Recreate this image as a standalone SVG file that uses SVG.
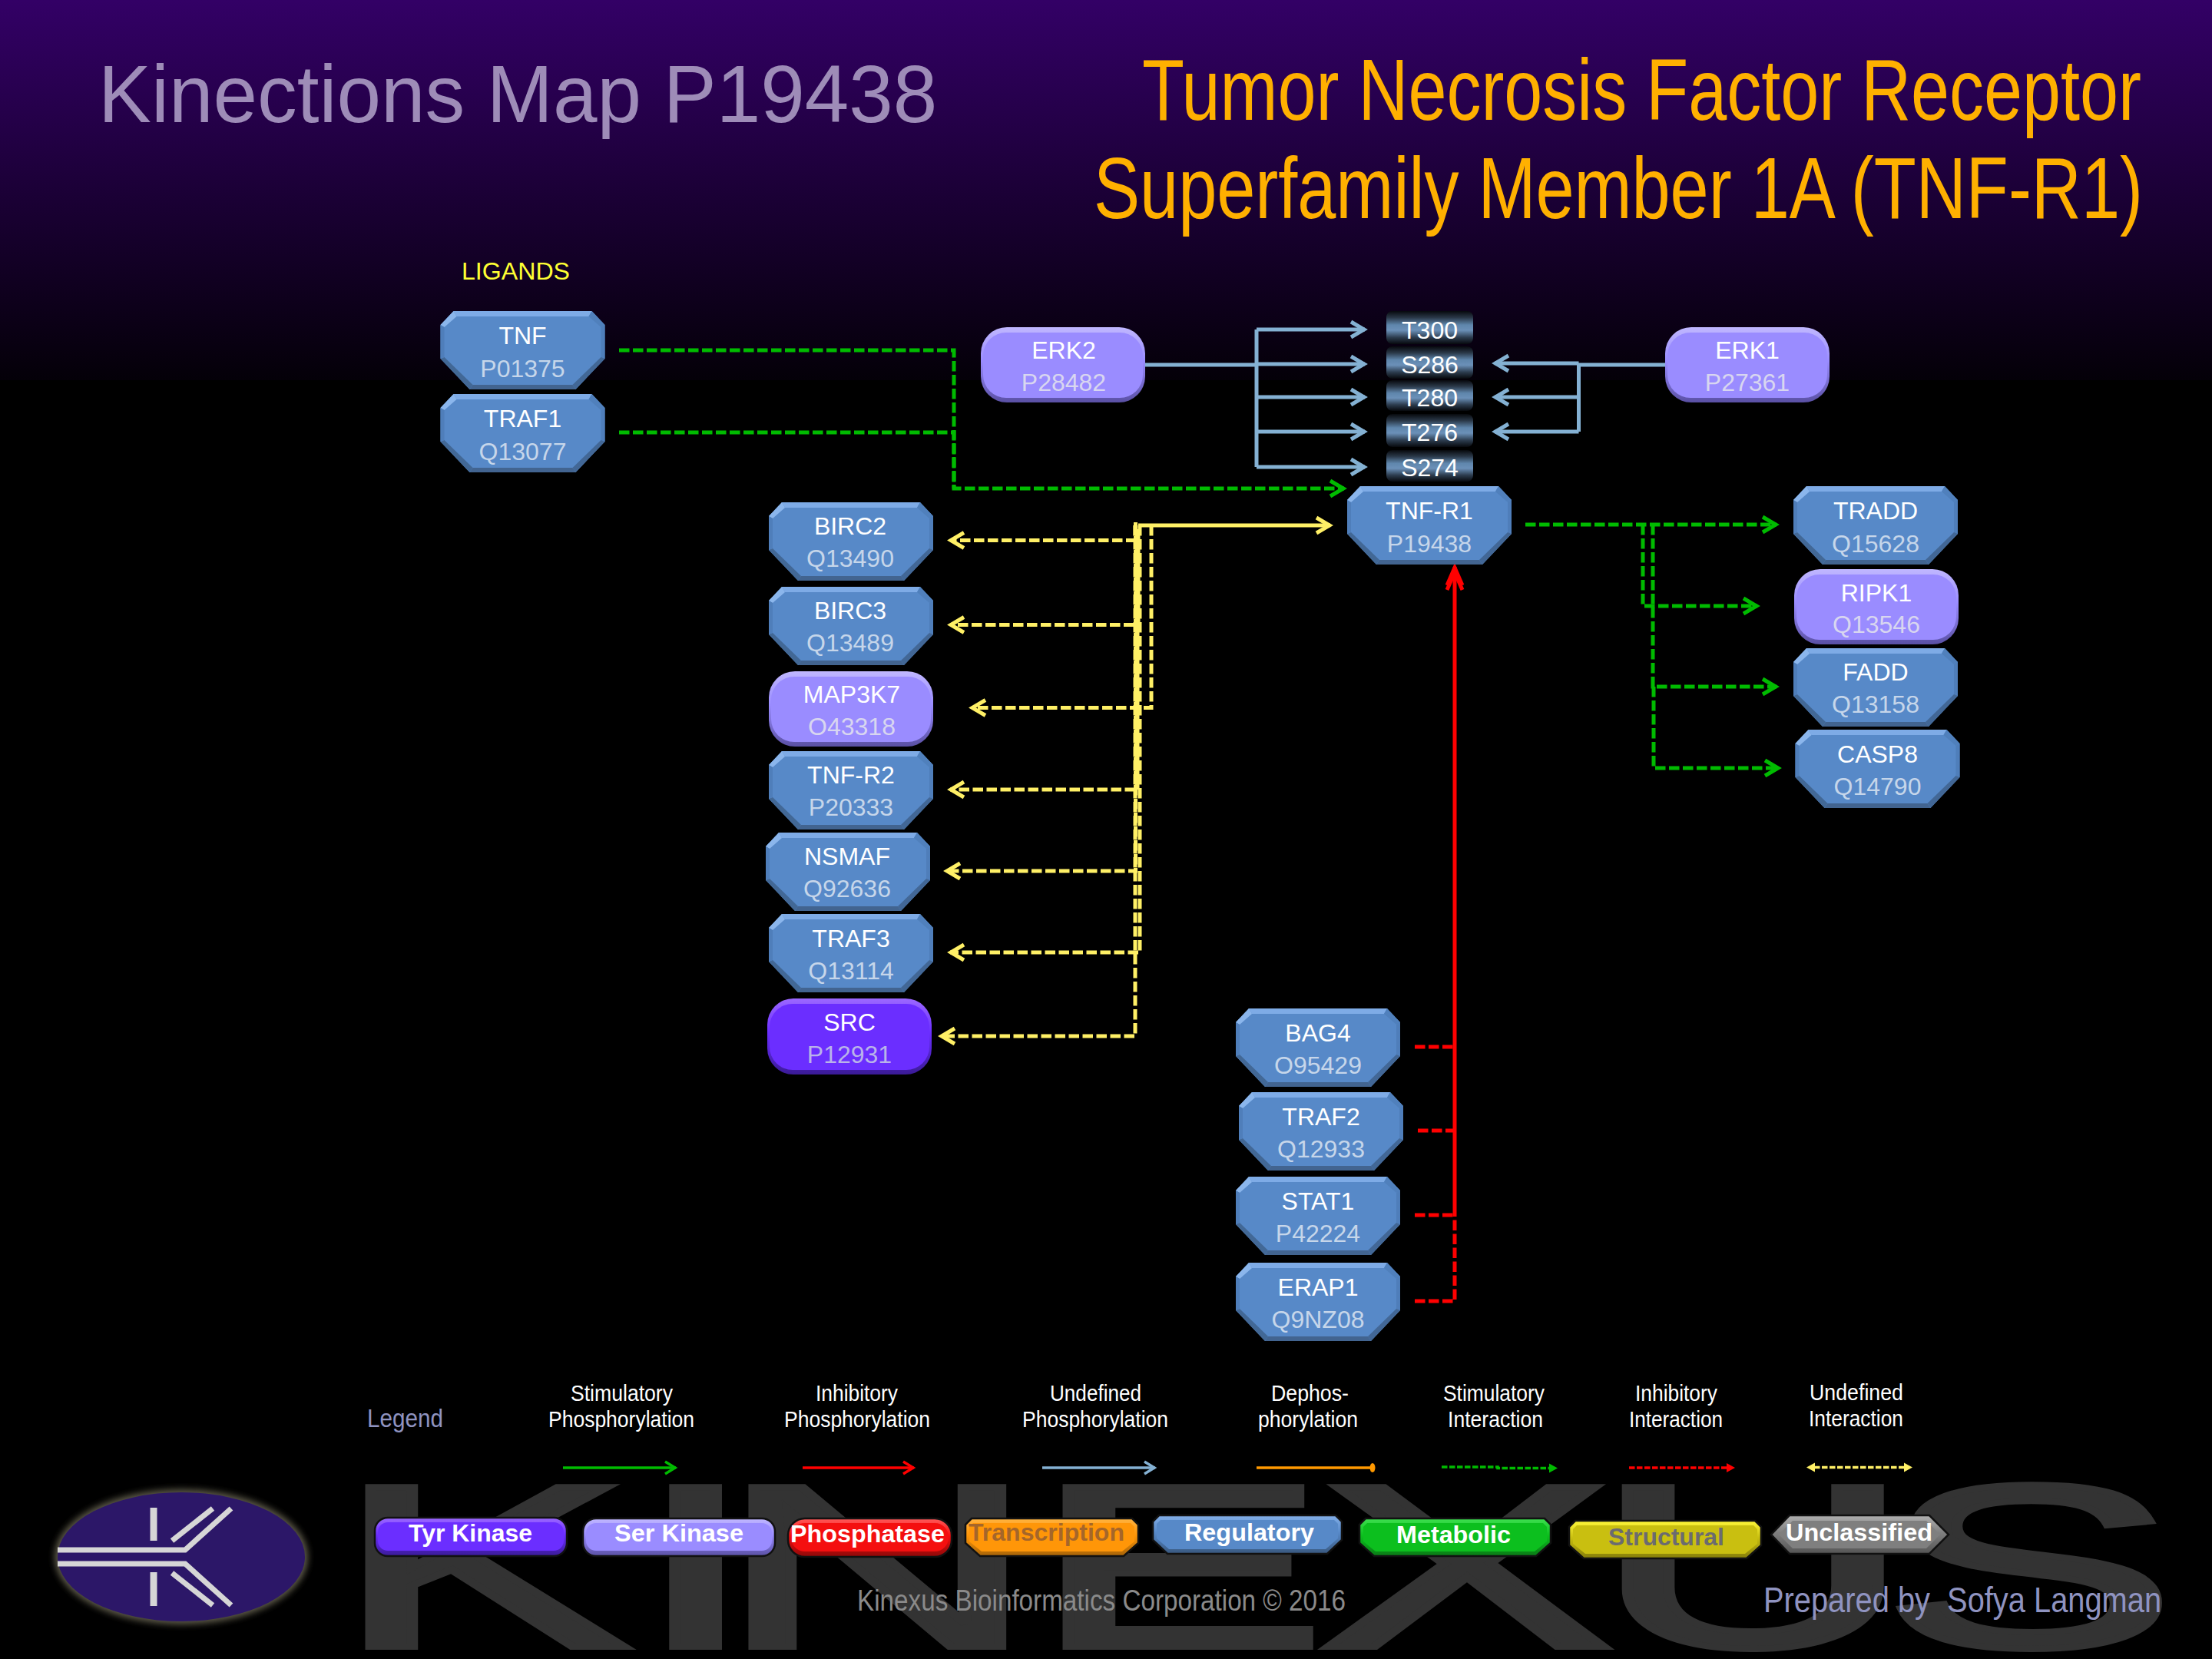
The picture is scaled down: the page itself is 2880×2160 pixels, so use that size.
<svg xmlns="http://www.w3.org/2000/svg" width="2880" height="2160" viewBox="0 0 2880 2160">
<defs>
<style>
text{font-family:"Liberation Sans",Arial,sans-serif}
.nm{font-size:32px;fill:#fff;text-anchor:middle}
.ac{font-size:32px;fill:#c6d6ea;text-anchor:middle}
.acp{font-size:32px;fill:#d8d6f0;text-anchor:middle}
.acd{font-size:32px;fill:#b9b3ea;text-anchor:middle}
.lg{font-size:30px;fill:#fff}
.bt{font-size:32px;font-weight:bold;fill:#fff}
.c{fill:none;stroke-width:5}
.dash{stroke-dasharray:13.5 4.5}
.gr{stroke:#00bb00}.bl{stroke:#84b1d3}.ye{stroke:#fff066}.re{stroke:#ff0000}
.ln{fill:none;stroke-width:3.5}
.ld{fill:none;stroke-width:3.5;stroke-dasharray:7.5 2.5}
.bo{stroke:#111;stroke-width:2.5}
.logo{fill:none;stroke:#d6d6d6}
</style>
<linearGradient id="bg" x1="0" y1="0" x2="0" y2="1"><stop offset="0" stop-color="#330066"/><stop offset="1" stop-color="#040008"/></linearGradient>
<linearGradient id="site" x1="0" y1="0" x2="0" y2="1"><stop offset="0" stop-color="#07090d"/><stop offset=".2" stop-color="#2a3848"/><stop offset=".42" stop-color="#5f86ac"/><stop offset=".58" stop-color="#6b90b8"/><stop offset=".8" stop-color="#2c3c4e"/><stop offset="1" stop-color="#07090d"/></linearGradient>
<linearGradient id="gSer" x1="0" y1="0" x2="0" y2="1"><stop offset="0" stop-color="#c0b7ff"/><stop offset=".45" stop-color="#9a8cff"/><stop offset="1" stop-color="#5a50a4"/></linearGradient>
<linearGradient id="gTyr" x1="0" y1="0" x2="0" y2="1"><stop offset="0" stop-color="#9c68ff"/><stop offset=".45" stop-color="#6b2eff"/><stop offset="1" stop-color="#3a1a96"/></linearGradient>
<linearGradient id="gRed" x1="0" y1="0" x2="0" y2="1"><stop offset="0" stop-color="#ff5a5a"/><stop offset=".45" stop-color="#f40f0f"/><stop offset="1" stop-color="#8e0808"/></linearGradient>
<linearGradient id="gOra" x1="0" y1="0" x2="0" y2="1"><stop offset="0" stop-color="#ffb340"/><stop offset=".45" stop-color="#ff9608"/><stop offset="1" stop-color="#a86408"/></linearGradient>
<linearGradient id="gBlu" x1="0" y1="0" x2="0" y2="1"><stop offset="0" stop-color="#82aee8"/><stop offset=".45" stop-color="#5789c8"/><stop offset="1" stop-color="#39587f"/></linearGradient>
<linearGradient id="gGre" x1="0" y1="0" x2="0" y2="1"><stop offset="0" stop-color="#3ee050"/><stop offset=".45" stop-color="#0cbf1e"/><stop offset="1" stop-color="#0a7a16"/></linearGradient>
<linearGradient id="gYel" x1="0" y1="0" x2="0" y2="1"><stop offset="0" stop-color="#fff73a"/><stop offset=".45" stop-color="#c9bf10"/><stop offset="1" stop-color="#847c0a"/></linearGradient>
<linearGradient id="gGry" x1="0" y1="0" x2="0" y2="1"><stop offset="0" stop-color="#b0b0b0"/><stop offset=".45" stop-color="#7f7f7f"/><stop offset="1" stop-color="#555"/></linearGradient>
<filter id="glow" x="-20%" y="-20%" width="140%" height="140%"><feGaussianBlur stdDeviation="4"/></filter>
<g id="oct">
<polygon points="17,0 197,0 214,18 214,62 176,102 38,102 0,62 0,18" fill="#5789c8"/>
<polygon points="17,0 197,0 193,7 21,7" fill="#7eabe6"/>
<polygon points="17,0 21,7 5,21 0,18" fill="#8bb6ec"/>
<polygon points="197,0 214,18 209,21 193,7" fill="#5080bc"/>
<polygon points="214,18 214,62 209,60 209,21" fill="#4f7eba"/>
<polygon points="214,62 176,102 172,96 209,60" fill="#426796"/>
<polygon points="176,102 38,102 42,96 172,96" fill="#426490"/>
<polygon points="38,102 0,62 5,60 42,96" fill="#426896"/>
<polygon points="0,18 5,21 5,60 0,62" fill="#4f7eba"/>
</g>
<g id="rser"><rect width="214" height="98" rx="34" fill="url(#gSer)"/><rect x="3" y="7" width="208" height="85" rx="30" fill="#9a8cff"/></g>
<g id="rtyr"><rect width="214" height="99" rx="34" fill="url(#gTyr)"/><rect x="3" y="7" width="208" height="86" rx="30" fill="#6b2eff"/></g>
<marker id="ag" markerUnits="userSpaceOnUse" markerWidth="32" markerHeight="30" refX="24" refY="15" orient="auto"><path d="M6,5 L23,15 L6,25" fill="none" stroke="#00bb00" stroke-width="5"/></marker>
<marker id="ab" markerUnits="userSpaceOnUse" markerWidth="32" markerHeight="30" refX="24" refY="15" orient="auto"><path d="M6,5 L23,15 L6,25" fill="none" stroke="#84b1d3" stroke-width="5"/></marker>
<marker id="ay" markerUnits="userSpaceOnUse" markerWidth="32" markerHeight="30" refX="24" refY="15" orient="auto"><path d="M6,5 L23,15 L6,25" fill="none" stroke="#fff066" stroke-width="5"/></marker>
<marker id="ar" markerUnits="userSpaceOnUse" markerWidth="40" markerHeight="30" refX="32" refY="15" orient="auto"><path d="M8,5 L31,15 L8,25 M2,5 L25,15 L2,25" fill="none" stroke="#ff0000" stroke-width="5"/></marker>
<marker id="sg" markerUnits="userSpaceOnUse" markerWidth="24" markerHeight="24" refX="18" refY="12" orient="auto"><path d="M4,4 L17,12 L4,20" fill="none" stroke="#00bb00" stroke-width="3.5"/></marker>
<marker id="sr" markerUnits="userSpaceOnUse" markerWidth="24" markerHeight="24" refX="18" refY="12" orient="auto"><path d="M4,4 L17,12 L4,20" fill="none" stroke="#ff0000" stroke-width="3.5"/></marker>
<marker id="sb" markerUnits="userSpaceOnUse" markerWidth="24" markerHeight="24" refX="18" refY="12" orient="auto"><path d="M4,4 L17,12 L4,20" fill="none" stroke="#84b1d3" stroke-width="3.5"/></marker>
<marker id="tg" markerUnits="userSpaceOnUse" markerWidth="14" markerHeight="14" refX="1" refY="7" orient="auto"><path d="M0,1 L11,7 L0,13Z" fill="#00bb00"/></marker>
<marker id="tr" markerUnits="userSpaceOnUse" markerWidth="14" markerHeight="14" refX="1" refY="7" orient="auto"><path d="M0,1 L11,7 L0,13Z" fill="#ff0000"/></marker>
<marker id="ty" markerUnits="userSpaceOnUse" markerWidth="14" markerHeight="14" refX="1" refY="7" orient="auto-start-reverse"><path d="M0,1 L11,7 L0,13Z" fill="#fff066"/></marker>
</defs>

<rect width="2880" height="2160" fill="#000"/>
<rect width="2880" height="495" fill="url(#bg)"/>

<g id="watermark"><text transform="translate(0,2144) scale(1.9,1)" x="229.5 434.7 492.1 707.4 903.7 1092.1 1290" y="0" font-size="302" fill="#333" stroke="#333" stroke-width="8">KINEXUS</text></g>

<g id="titles">
<text transform="translate(128,159) scale(.985,1)" font-size="105" fill="#9e8cb8">Kinections Map P19438</text>
<text transform="translate(1487,156) scale(.796,1)" font-size="113" fill="#ffb000">Tumor Necrosis Factor Receptor</text>
<text transform="translate(1424,284) scale(.797,1)" font-size="113" fill="#ffb000">Superfamily Member 1A (TNF-R1)</text>
<text x="601" y="364" font-size="32" fill="#ffff33" textLength="141" lengthAdjust="spacingAndGlyphs">LIGANDS</text>
</g>

<g id="connectors">
<path class="c dash gr" d="M806,456 H1242 V636 H1750" marker-end="url(#ag)"/>
<path class="c dash gr" d="M806,563 H1242 V636"/>
<path class="c bl" d="M1490,475 H1636"/>
<path class="c bl" d="M1636,429 V608"/>
<path class="c bl" d="M1636,429 H1777" marker-end="url(#ab)"/>
<path class="c bl" d="M1636,474 H1777" marker-end="url(#ab)"/>
<path class="c bl" d="M1636,517 H1777" marker-end="url(#ab)"/>
<path class="c bl" d="M1636,562 H1777" marker-end="url(#ab)"/>
<path class="c bl" d="M1636,608 H1777" marker-end="url(#ab)"/>
<path class="c bl" d="M2169,475 H2055.5 V562"/>
<path class="c bl" d="M2055.5,473 H1946" marker-end="url(#ab)"/>
<path class="c bl" d="M2055.5,517 H1946" marker-end="url(#ab)"/>
<path class="c bl" d="M2055.5,562 H1946" marker-end="url(#ab)"/>
<path class="c ye" d="M1482,684 H1732" marker-end="url(#ay)"/>
<path class="c dash ye" d="M1478,684 V1349 H1225" marker-end="url(#ay)"/>
<path class="c dash ye" d="M1478.5,680 V1134 H1232" marker-end="url(#ay)"/>
<path class="c dash ye" d="M1484,684 V1240 H1237" marker-end="url(#ay)"/>
<path class="c dash ye" d="M1481,689 V1028 H1237" marker-end="url(#ay)"/>
<path class="c dash ye" d="M1482,693 V813.5 H1237" marker-end="url(#ay)"/>
<path class="c dash ye" d="M1480,697 V1028"/>
<path class="c dash ye" d="M1478,684 V703.5 H1237" marker-end="url(#ay)"/>
<path class="c dash ye" d="M1499,684 V921.5 H1265" marker-end="url(#ay)"/>
<path class="c dash gr" d="M1986,683 H2313" marker-end="url(#ag)"/>
<path class="c dash gr" d="M2139,683 V789 H2288" marker-end="url(#ag)"/>
<path class="c dash gr" d="M2152,683 V894 H2313" marker-end="url(#ag)"/>
<path class="c dash gr" d="M2153,894 V1000 H2316" marker-end="url(#ag)"/>
<path class="c re" d="M1894,1582 V738" marker-end="url(#ar)"/>
<path class="c dash re" d="M1842,1363 H1894"/>
<path class="c dash re" d="M1846,1472 H1894"/>
<path class="c dash re" d="M1842,1582 H1894"/>
<path class="c dash re" d="M1842,1694 H1894 V1582"/>
</g>

<g id="n-T300"><rect x="1805" y="405" width="113" height="43" rx="8" fill="url(#site)"/><text class="nm" x="1861.5" y="441">T300</text></g>
<g id="n-S286"><rect x="1805" y="451" width="113" height="42" rx="8" fill="url(#site)"/><text class="nm" x="1861.5" y="486">S286</text></g>
<g id="n-T280"><rect x="1805" y="495" width="113" height="40" rx="8" fill="url(#site)"/><text class="nm" x="1861.5" y="529">T280</text></g>
<g id="n-T276"><rect x="1805" y="539" width="113" height="43" rx="8" fill="url(#site)"/><text class="nm" x="1861.5" y="574">T276</text></g>
<g id="n-S274"><rect x="1805" y="586" width="113" height="41" rx="8" fill="url(#site)"/><text class="nm" x="1861.5" y="620">S274</text></g>

<g id="n-TNF" transform="translate(573.5,405)"><use href="#oct"/><text class="nm" x="107" y="43">TNF</text><text class="ac" x="107" y="86">P01375</text></g>
<g id="n-TRAF1" transform="translate(573.5,513)"><use href="#oct"/><text class="nm" x="107" y="43">TRAF1</text><text class="ac" x="107" y="86">Q13077</text></g>
<g id="n-ERK2" transform="translate(1277,426)"><use href="#rser"/><text class="nm" x="108" y="41">ERK2</text><text class="acp" x="108" y="83">P28482</text></g>
<g id="n-ERK1" transform="translate(2168,426)"><use href="#rser"/><text class="nm" x="107" y="41">ERK1</text><text class="acp" x="107" y="83">P27361</text></g>
<g id="n-TNFR1" transform="translate(1754,633)"><use href="#oct"/><text class="nm" x="107" y="43">TNF-R1</text><text class="ac" x="107" y="86">P19438</text></g>
<g id="n-BIRC2" transform="translate(1001,654)"><use href="#oct"/><text class="nm" x="106" y="42">BIRC2</text><text class="ac" x="106" y="84">Q13490</text></g>
<g id="n-BIRC3" transform="translate(1001,764)"><use href="#oct"/><text class="nm" x="106" y="42">BIRC3</text><text class="ac" x="106" y="84">Q13489</text></g>
<g id="n-MAP3K7" transform="translate(1001,874)"><use href="#rser"/><text class="nm" x="108" y="41">MAP3K7</text><text class="acp" x="108" y="83">O43318</text></g>
<g id="n-TNFR2" transform="translate(1001,978)"><use href="#oct"/><text class="nm" x="107" y="42">TNF-R2</text><text class="ac" x="107" y="84">P20333</text></g>
<g id="n-NSMAF" transform="translate(997,1084)"><use href="#oct"/><text class="nm" x="106" y="42">NSMAF</text><text class="ac" x="106" y="84">Q92636</text></g>
<g id="n-TRAF3" transform="translate(1001,1190)"><use href="#oct"/><text class="nm" x="107" y="43">TRAF3</text><text class="ac" x="107" y="85">Q13114</text></g>
<g id="n-SRC" transform="translate(999,1300)"><use href="#rtyr"/><text class="nm" x="107" y="42">SRC</text><text class="acd" x="107" y="84">P12931</text></g>
<g id="n-BAG4" transform="translate(1609,1313)"><use href="#oct"/><text class="nm" x="107" y="43">BAG4</text><text class="ac" x="107" y="85">O95429</text></g>
<g id="n-TRAF2" transform="translate(1613,1422)"><use href="#oct"/><text class="nm" x="107" y="43">TRAF2</text><text class="ac" x="107" y="85">Q12933</text></g>
<g id="n-STAT1" transform="translate(1609,1532)"><use href="#oct"/><text class="nm" x="107" y="43">STAT1</text><text class="ac" x="107" y="85">P42224</text></g>
<g id="n-ERAP1" transform="translate(1609,1644)"><use href="#oct"/><text class="nm" x="107" y="43">ERAP1</text><text class="ac" x="107" y="85">Q9NZ08</text></g>
<g id="n-TRADD" transform="translate(2335,633)"><use href="#oct"/><text class="nm" x="107" y="43">TRADD</text><text class="ac" x="107" y="86">Q15628</text></g>
<g id="n-RIPK1" transform="translate(2336,741)"><use href="#rser"/><text class="nm" x="107" y="42">RIPK1</text><text class="acp" x="107" y="83">Q13546</text></g>
<g id="n-FADD" transform="translate(2335,844)"><use href="#oct"/><text class="nm" x="107" y="42">FADD</text><text class="ac" x="107" y="84">Q13158</text></g>
<g id="n-CASP8" transform="translate(2337.5,950)"><use href="#oct"/><text class="nm" x="107" y="43">CASP8</text><text class="ac" x="107" y="85">Q14790</text></g>

<g id="legend-labels">
<text x="478" y="1858" font-size="34" fill="#8f93c0" textLength="99" lengthAdjust="spacingAndGlyphs">Legend</text>
<text class="lg" x="743" y="1824" textLength="133" lengthAdjust="spacingAndGlyphs">Stimulatory</text>
<text class="lg" x="714" y="1858" textLength="190" lengthAdjust="spacingAndGlyphs">Phosphorylation</text>
<text class="lg" x="1062" y="1824" textLength="107" lengthAdjust="spacingAndGlyphs">Inhibitory</text>
<text class="lg" x="1021" y="1858" textLength="190" lengthAdjust="spacingAndGlyphs">Phosphorylation</text>
<text class="lg" x="1367" y="1824" textLength="119" lengthAdjust="spacingAndGlyphs">Undefined</text>
<text class="lg" x="1331" y="1858" textLength="190" lengthAdjust="spacingAndGlyphs">Phosphorylation</text>
<text class="lg" x="1655" y="1824" textLength="101" lengthAdjust="spacingAndGlyphs">Dephos-</text>
<text class="lg" x="1638" y="1858" textLength="130" lengthAdjust="spacingAndGlyphs">phorylation</text>
<text class="lg" x="1879" y="1824" textLength="132" lengthAdjust="spacingAndGlyphs">Stimulatory</text>
<text class="lg" x="1885" y="1858" textLength="124" lengthAdjust="spacingAndGlyphs">Interaction</text>
<text class="lg" x="2129" y="1824" textLength="107" lengthAdjust="spacingAndGlyphs">Inhibitory</text>
<text class="lg" x="2121" y="1858" textLength="122" lengthAdjust="spacingAndGlyphs">Interaction</text>
<text class="lg" x="2356" y="1823" textLength="122" lengthAdjust="spacingAndGlyphs">Undefined</text>
<text class="lg" x="2355" y="1857" textLength="123" lengthAdjust="spacingAndGlyphs">Interaction</text>
</g>

<g id="legend-connectors">
<path class="ln gr" d="M733,1911 H880" marker-end="url(#sg)"/>
<path class="ln re" d="M1045,1911 H1190" marker-end="url(#sr)"/>
<path class="ln bl" d="M1357,1911 H1504" marker-end="url(#sb)"/>
<path class="ln" stroke="#ff9900" d="M1636,1911 H1787"/><ellipse cx="1787" cy="1911" rx="3.5" ry="6" fill="#ff9900"/>
<path class="ld gr" d="M1877,1910 H1950 V1911.5 H2018" marker-end="url(#tg)"/>
<path class="ld re" d="M2121,1911 H2249" marker-end="url(#tr)"/>
<path class="ld ye" d="M2362,1910.5 H2480" marker-start="url(#ty)" marker-end="url(#ty)"/>
</g>

<g id="logo">
<ellipse cx="236" cy="2027" rx="165" ry="88" fill="#5d5a48" filter="url(#glow)"/>
<ellipse cx="236" cy="2027" rx="161" ry="84" fill="#2c1768"/>
<path class="logo" stroke-width="7" d="M75,2018 H241 L301,1964"/>
<path class="logo" stroke-width="7" d="M75,2036 H241 L301,2090"/>
<path class="logo" stroke-width="7" d="M224,2006 L277,1964"/>
<path class="logo" stroke-width="7" d="M224,2048 L277,2090"/>
<path class="logo" stroke-width="9" d="M200,1963 V2006"/>
<path class="logo" stroke-width="9" d="M200,2047 V2091"/>
</g>

<g id="k-tyr"><rect class="bo" x="488" y="1976" width="250" height="50" rx="17" fill="url(#gTyr)"/><rect x="492" y="1982" width="242" height="37" rx="13" fill="#6b2eff"/><text class="bt" x="532" y="2007" textLength="161" lengthAdjust="spacingAndGlyphs">Tyr Kinase</text></g>
<g id="k-ser"><rect class="bo" x="759" y="1977" width="250" height="49" rx="17" fill="url(#gSer)"/><rect x="763" y="1983" width="242" height="36" rx="13" fill="#9a8cff"/><text class="bt" x="800" y="2007" textLength="168" lengthAdjust="spacingAndGlyphs">Ser Kinase</text></g>
<g id="k-pho"><rect class="bo" x="1026" y="1977" width="213" height="50" rx="22" fill="url(#gRed)"/><rect x="1030" y="1983" width="205" height="37" rx="18" fill="#f40f0f"/><text class="bt" x="1029" y="2008" textLength="201" lengthAdjust="spacingAndGlyphs">Phosphatase</text></g>
<g id="k-tra"><polygon class="bo" points="1265,1977 1474,1977 1482,1985 1482,2009 1463,2026 1276,2026 1257,2009 1257,1985" fill="url(#gOra)"/><polygon points="1267,1983 1472,1983 1477,1988 1477,2007 1461,2020 1278,2020 1262,2007 1262,1988" fill="#ff9608"/><text class="bt" style="fill:#a5662a" x="1261" y="2006" textLength="203" lengthAdjust="spacingAndGlyphs">Transcription</text></g>
<g id="k-reg"><polygon class="bo" points="1509,1973 1739,1973 1747,1981 1747,2005 1728,2023 1520,2023 1501,2005 1501,1981" fill="url(#gBlu)"/><polygon points="1511,1979 1737,1979 1742,1984 1742,2003 1726,2017 1522,2017 1506,2003 1506,1984" fill="#5789c8"/><text class="bt" x="1542" y="2006" textLength="169" lengthAdjust="spacingAndGlyphs">Regulatory</text></g>
<g id="k-met"><polygon class="bo" points="1778,1977 2011,1977 2019,1985 2019,2009 2000,2026 1789,2026 1770,2009 1770,1985" fill="url(#gGre)"/><polygon points="1780,1983 2009,1983 2014,1988 2014,2007 1998,2020 1791,2020 1775,2007 1775,1988" fill="#0cbf1e"/><text class="bt" x="1818" y="2009" textLength="149" lengthAdjust="spacingAndGlyphs">Metabolic</text></g>
<g id="k-str"><polygon class="bo" points="2051,1980 2285,1980 2293,1988 2293,2012 2274,2029 2062,2029 2043,2012 2043,1988" fill="url(#gYel)"/><polygon points="2053,1986 2283,1986 2288,1991 2288,2010 2272,2023 2064,2023 2048,2010 2048,1991" fill="#c9bf10"/><text class="bt" style="fill:#6b6b70" x="2094" y="2012" textLength="151" lengthAdjust="spacingAndGlyphs">Structural</text></g>
<g id="k-unc"><polygon class="bo" points="2330,1973 2512,1973 2537,1998 2512,2023 2330,2023 2306,1998" fill="url(#gGry)"/><polygon points="2334,1980 2508,1980 2526,1998 2508,2016 2334,2016 2316,1998" fill="#7f7f7f"/><text class="bt" x="2325" y="2006" textLength="191" lengthAdjust="spacingAndGlyphs">Unclassified</text></g>

<g id="credits">
<text x="1116" y="2097" font-size="38" fill="#8a8a8a" textLength="636" lengthAdjust="spacingAndGlyphs">Kinexus Bioinformatics Corporation © 2016</text>
<text transform="translate(2296,2099) scale(.866,1)" font-size="46" fill="#8f93c0" xml:space="preserve">Prepared by  Sofya Langman</text>
</g>
</svg>
